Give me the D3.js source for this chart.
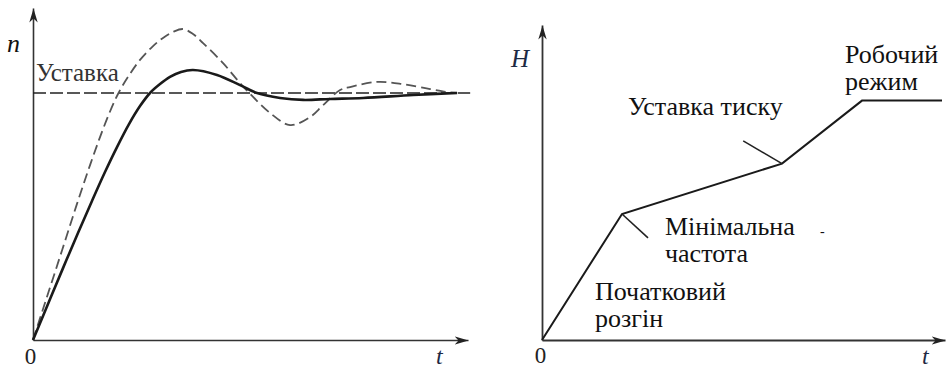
<!DOCTYPE html>
<html><head><meta charset="utf-8">
<script src="https://cdn.jsdelivr.net/npm/d3@7"></script>
</head><body style="margin:0">
<svg id="c" width="948" height="369"></svg>
<script>
// ---- Left panel: speed response n(t) to a setpoint step ----
const solidT  = [0, 0.345, 0.690, 1.034, 1.356, 1.655, 1.931, 2.207, 2.460, 2.690, 2.920, 3.149, 3.402, 3.678, 4.23, 4.76, 5.15, 5.68, 6.21, 6.83, 7.59, 8.74, 9.75];
const solidN  = [0, 0.146, 0.291, 0.433, 0.563, 0.680, 0.781, 0.874, 0.947, 1.0, 1.036, 1.065, 1.085, 1.093, 1.073, 1.032, 1.0, 0.980, 0.972, 0.976, 0.980, 0.992, 1.0];
const dashedT = [0, 0.253, 0.506, 0.759, 1.011, 1.264, 1.517, 1.747, 1.954, 2.184, 2.460, 2.736, 2.989, 3.218, 3.448, 3.678, 3.91, 4.37, 4.76, 5.06, 5.45, 5.91, 6.37, 6.67, 7.06, 7.29, 7.91, 8.51, 9.13, 9.52, 9.75];
const dashedN = [0, 0.138, 0.275, 0.413, 0.551, 0.684, 0.810, 0.915, 0.996, 1.065, 1.134, 1.186, 1.223, 1.247, 1.259, 1.239, 1.202, 1.121, 1.040, 0.984, 0.919, 0.870, 0.903, 0.951, 1.012, 1.024, 1.045, 1.036, 1.016, 1.004, 1.0];
const setpointN = 1;
const setpointSpan = [0, 10.05];
const setpointLabel = "Уставка";

// ---- Right panel: pressure head H(t) start-up profile ----
const rampT = [0, 2, 6, 8, 10];
const rampH = [0, 4, 5.6, 7.6, 7.6];
// leader lines: from a knee of the profile to a free end
const leaders = [
  { from: [2, 4],   to: [2.65, 3.24] },
  { from: [6, 5.6], to: [5.03, 6.32] }
];
// annotation text, anchored at the left end of the first line (t, H)
const notes = [
  { t: 2.15,  H: 7.14, lines: ["Уставка тиску"] },
  { t: 7.575, H: 8.79, lines: ["Робочий", "режим"] },
  { t: 3.075, H: 3.33, lines: ["Мінімальна", "частота"] },
  { t: 1.325, H: 1.27, lines: ["Початковий", "розгін"] }
];

const SERIF = "Liberation Serif";

const svg = d3.select("#c").style("display", "block");
const defs = svg.append("defs");
defs.append("marker")
  .attr("id", "arrow").attr("markerUnits", "userSpaceOnUse")
  .attr("viewBox", "-14 -5 15 10").attr("refX", 0).attr("refY", 0)
  .attr("markerWidth", 15).attr("markerHeight", 10).attr("orient", "auto")
  .append("path").attr("d", "M0,0 L-14,-4.2 L-10,0 L-14,4.2 Z").attr("fill", "#222");

function serif(sel) {
  return sel.attr("font-family", SERIF).style("font-family", `"${SERIF}"`);
}
function styleAxis(g, w) {
  serif(g);
  g.select(".domain").attr("stroke", "#333").attr("stroke-width", w).attr("marker-end", "url(#arrow)");
  serif(g.selectAll(".tick text")).attr("fill", "#222");
}
function label(x, y, size, s) {
  return serif(svg.append("text")).attr("x", x).attr("y", y).attr("font-size", size)
    .attr("fill", "#111").text(s);
}

// ---------- left panel ----------
const xL = d3.scaleLinear().domain([0, 10]).range([33, 468]);
const yL = d3.scaleLinear().domain([0, 1]).range([340, 93]);
const yLAxisScale = yL.copy().domain([0, 1.344]).range([340, 8]);

const gxL = svg.append("g").attr("transform", `translate(0,${yL(0)})`)
  .call(d3.axisBottom(xL).tickValues([0]).tickSize(0).tickSizeOuter(0).tickPadding(8).tickFormat(d3.format("d")));
gxL.selectAll(".tick text").attr("font-size", 23).attr("dx", -3);
styleAxis(gxL, 1.6);

const gyL = svg.append("g").attr("transform", `translate(${xL(0)},0)`)
  .call(d3.axisLeft(yLAxisScale).tickValues([]).tickSizeOuter(0));
styleAxis(gyL, 1.6);

label(xL(10) - 32, 364, 24, "t").attr("font-style", "italic").attr("fill", "#1d2a44");
label(7, 52, 26, "n").attr("font-style", "italic");

// setpoint line
svg.append("line")
  .attr("x1", xL(setpointSpan[0])).attr("x2", xL(setpointSpan[1]))
  .attr("y1", yL(setpointN)).attr("y2", yL(setpointN))
  .attr("stroke", "#222").attr("stroke-width", 1.5).attr("stroke-dasharray", "13,4");
label(36, 81, 25, setpointLabel).attr("fill", "#333");

const lineL = d3.line().x(d => xL(d[0])).y(d => yL(d[1])).curve(d3.curveCatmullRom.alpha(0.5));
svg.append("path").datum(dashedT.map((t, i) => [t, dashedN[i]]))
  .attr("d", lineL).attr("fill", "none").attr("stroke", "#555")
  .attr("stroke-width", 1.8).attr("stroke-dasharray", "10,5");
svg.append("path").datum(solidT.map((t, i) => [t, solidN[i]]))
  .attr("d", lineL).attr("fill", "none").attr("stroke", "#1a1a1a")
  .attr("stroke-width", 2.6);

// ---------- right panel ----------
const xR = d3.scaleLinear().domain([0, 10]).range([542, 942]);
const yR = d3.scaleLinear().domain([0, 10]).range([340, 25]);
const xRAxisScale = xR.copy().domain([0, 10.075]).range([542, 945]);

const gxR = svg.append("g").attr("transform", `translate(0,${yR(0)})`)
  .call(d3.axisBottom(xRAxisScale).tickValues([0]).tickSize(0).tickSizeOuter(0).tickPadding(7).tickFormat(d3.format("d")));
gxR.selectAll(".tick text").attr("font-size", 23).attr("dx", -2);
styleAxis(gxR, 1.8);

const gyR = svg.append("g").attr("transform", `translate(${xR(0)},0)`)
  .call(d3.axisLeft(yR).tickValues([]).tickSizeOuter(0));
styleAxis(gyR, 1.8);

label(922, 364, 24, "t").attr("font-style", "italic").attr("fill", "#1d2a44");
label(511, 67, 25, "H").attr("font-style", "italic").attr("fill", "#1d2a44");

const lineR = d3.line().x(d => xR(d[0])).y(d => yR(d[1]));
svg.append("path").datum(rampT.map((t, i) => [t, rampH[i]]))
  .attr("d", lineR).attr("fill", "none").attr("stroke", "#1a1a1a")
  .attr("stroke-width", 2).attr("stroke-linejoin", "miter");

svg.selectAll("line.leader").data(leaders).join("line").attr("class", "leader")
  .attr("x1", d => xR(d.from[0])).attr("y1", d => yR(d.from[1]))
  .attr("x2", d => xR(d.to[0])).attr("y2", d => yR(d.to[1]))
  .attr("stroke", "#222").attr("stroke-width", 1.6);

const noteG = serif(svg.selectAll("text.note").data(notes).join("text").attr("class", "note"))
  .attr("x", d => xR(d.t)).attr("y", d => yR(d.H)).attr("font-size", 26)
  .attr("fill", "#111");
noteG.selectAll("tspan").data(d => d.lines.map((s, i) => ({ s, i, x: xR(d.t) })))
  .join("tspan").attr("x", d => d.x).attr("dy", d => d.i ? 27 : 0).text(d => d.s);

// stray dash near the plateau annotation
label(xR(6.95), yR(3.3), 14, "-");
</script>
</body></html>
